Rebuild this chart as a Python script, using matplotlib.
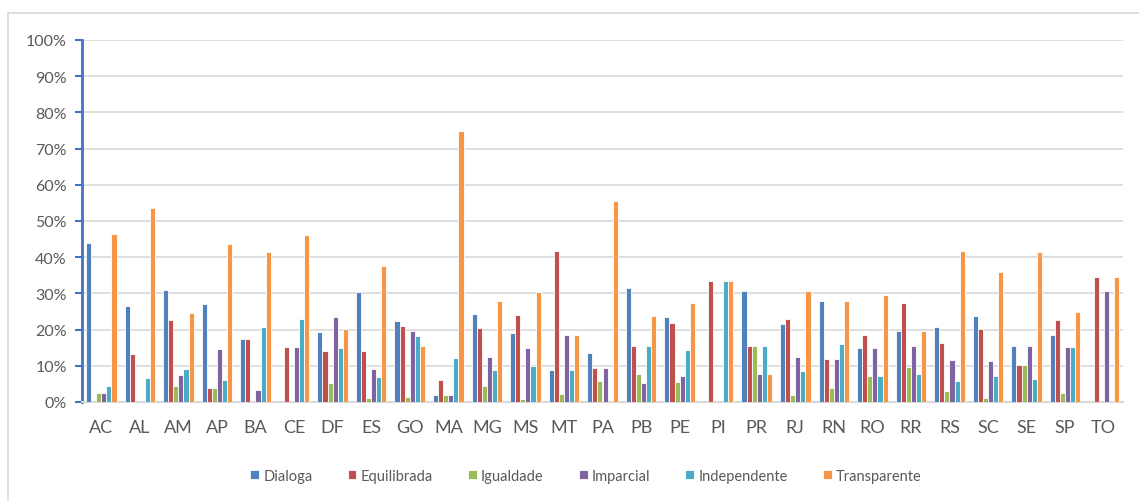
import numpy as np
import matplotlib
matplotlib.use("Agg")
import matplotlib.pyplot as plt
from matplotlib.lines import Line2D
from matplotlib.ticker import PercentFormatter

plt.rcParams["font.family"] = ["Lato", "DejaVu Sans"]

# ── Data (percent) ────────────────────────────────────────────────────────
estados = ["AC", "AL", "AM", "AP", "BA", "CE", "DF", "ES", "GO", "MA", "MG", "MS", "MT", "PA",
           "PB", "PE", "PI", "PR", "RJ", "RN", "RO", "RR", "RS", "SC", "SE", "SP", "TO"]

dialoga      = [44.0, 26.5, 31.0, 27.2, 17.3, 0.0, 19.4, 30.3, 22.3, 1.8, 24.3, 19.0, 8.9, 13.5,
                31.6, 23.4, 0.0, 30.7, 21.5, 27.9, 14.8, 19.5, 20.6, 23.7, 15.4, 18.5, 0.0]
equilibrada  = [0.0, 13.3, 22.7, 4.0, 17.3, 15.3, 14.0, 14.2, 21.0, 6.0, 20.5, 24.1, 41.8, 9.3,
                15.6, 21.8, 33.3, 15.4, 23.0, 11.9, 18.4, 27.4, 16.2, 20.2, 10.3, 22.7, 34.5]
igualdade    = [2.4, 0.0, 4.5, 4.0, 0.0, 0.0, 5.3, 1.2, 1.3, 1.8, 4.3, 0.7, 2.1, 5.9,
                7.7, 5.4, 0.0, 15.4, 2.0, 3.8, 7.3, 9.6, 3.1, 1.0, 10.3, 2.5, 0.0]
imparcial    = [2.4, 0.0, 7.5, 14.6, 3.3, 15.3, 23.6, 9.0, 19.5, 1.8, 12.3, 14.9, 18.5, 9.3,
                5.2, 7.3, 0.0, 7.6, 12.5, 11.9, 14.8, 15.6, 11.6, 11.2, 15.4, 15.3, 30.7]
independente = [4.5, 6.7, 9.2, 6.2, 20.6, 23.0, 14.9, 6.8, 18.3, 12.2, 8.8, 9.9, 8.9, 0.0,
                15.6, 14.5, 33.3, 15.4, 8.5, 16.0, 7.3, 7.7, 5.9, 7.3, 6.4, 15.3, 0.0]
transparente = [46.5, 53.5, 24.5, 43.7, 41.5, 46.0, 20.3, 37.5, 15.6, 75.0, 27.9, 30.3, 18.5, 55.6,
                23.7, 27.3, 33.3, 7.7, 30.6, 27.9, 29.6, 19.5, 41.8, 36.0, 41.5, 24.8, 34.5]

series = [
    ("Dialoga", dialoga, "#4F81BD"),
    ("Equilibrada", equilibrada, "#C0504D"),
    ("Igualdade", igualdade, "#9BBB59"),
    ("Imparcial", imparcial, "#8064A2"),
    ("Independente", independente, "#4BACC6"),
    ("Transparente", transparente, "#F79646"),
]

# ── Figure ────────────────────────────────────────────────────────────────
fig = plt.figure(figsize=(11.39, 5.02), dpi=100)
ax = fig.add_axes([82 / 1139, 99 / 502, 1041 / 1139, 362 / 502])

x = np.arange(len(estados))
slot = 0.132
for i, (name, vals, color) in enumerate(series):
    ax.bar(x + (i - 2.5) * slot, vals, width=slot, color=color,
           edgecolor="white", linewidth=0.6, label=name, zorder=3)

ax.set_xlim(-0.5, len(estados) - 0.5)
ax.set_ylim(0, 100)
ax.set_yticks(np.arange(0, 101, 10))
ax.yaxis.set_major_formatter(PercentFormatter(decimals=0))
ax.grid(axis="y", color="#d9d9d9", lw=1.2, zorder=0)
ax.set_xticks(x)
ax.set_xticklabels(estados)

for s in ["top", "right"]:
    ax.spines[s].set_visible(False)
ax.spines["left"].set_color("#4472C4")
ax.spines["left"].set_linewidth(2)
ax.spines["bottom"].set_color("#d9d9d9")
ax.spines["bottom"].set_linewidth(1.5)
ax.tick_params(axis="y", colors="#4472C4", length=5, width=1.5, labelsize=11.5,
               labelcolor="#595959", pad=6)
ax.tick_params(axis="x", length=0, labelsize=13, labelcolor="#595959", pad=12)

leg = fig.legend(loc="center", bbox_to_anchor=(586 / 1139, 25 / 502), ncol=6,
                 frameon=False, fontsize=10.5, handlelength=0.6, handleheight=0.6,
                 handletextpad=0.3, columnspacing=2.4)
for t in leg.get_texts():
    t.set_color("#595959")

# light frame around the chart area
fig.add_artist(Line2D([8 / 1139, 1], [1 - 14 / 502, 1 - 14 / 502], color="#d9d9d9", lw=1.2))
fig.add_artist(Line2D([8 / 1139, 8 / 1139], [0, 1 - 14 / 502], color="#d9d9d9", lw=1.2))

fig.savefig("out.png", dpi=100)
